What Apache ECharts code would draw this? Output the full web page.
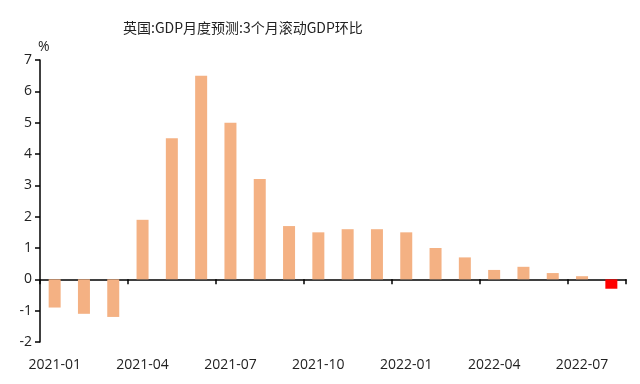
<!DOCTYPE html>
<html><head><meta charset="utf-8">
<script src="https://cdn.jsdelivr.net/npm/echarts@6/dist/echarts.min.js"></script>
<style>html,body{margin:0;padding:0;background:#fff}#c{width:640px;height:384px}</style>
</head><body><div id="c"></div>
<script>
const categories = ["2021-01","2021-02","2021-03","2021-04","2021-05","2021-06","2021-07","2021-08","2021-09","2021-10","2021-11","2021-12","2022-01","2022-02","2022-03","2022-04","2022-05","2022-06","2022-07","2022-08"];
const values = [-0.9,-1.1,-1.2,1.9,4.5,6.5,5.0,3.2,1.7,1.5,1.6,1.6,1.5,1.0,0.7,0.3,0.4,0.2,0.1,-0.3];
const highlightIndex = [19];
const yTicks = {min:-2, max:7, interval:1};
const titleText = "英国:GDP月度预测:3个月滚动GDP环比";
const unitText = "%";

const font = "'Open Sans', 'Noto Sans CJK SC', sans-serif";
const chart = echarts.init(document.getElementById('c'), null, {renderer:'canvas'});
chart.setOption({
  animation:false,
  title:{text:titleText, left:118, top:16, textStyle:{fontSize:14, fontWeight:'normal', color:'#222', fontFamily:"'Noto Sans CJK SC', sans-serif"}},
  grid:{left:40, right:14, top:60, bottom:42, containLabel:false},
  xAxis:[{
    type:'category', data:categories, position:'bottom',
    axisLine:{onZero:true, lineStyle:{color:'#000', width:1.5}},
    axisTick:{show:true, interval:2, length:5, inside:false, lineStyle:{color:'#000', width:1.5}},
    axisLabel:{show:false}
  },{
    type:'category', data:categories, position:'bottom',
    axisLine:{show:false, onZero:false}, axisTick:{show:false},
    axisLabel:{interval:2, color:'#222', fontSize:14, fontFamily:font, margin:16}
  }],
  yAxis:{
    type:'value', min:yTicks.min, max:yTicks.max, interval:yTicks.interval,
    name:unitText, nameGap:6, nameTextStyle:{color:'#222', fontSize:14, fontFamily:font, align:'left', padding:[0,0,0,-2]},
    axisLine:{show:true, lineStyle:{color:'#000', width:1.5}},
    axisTick:{show:true, length:5, lineStyle:{color:'#000', width:1.5}},
    axisLabel:{color:'#222', fontSize:14, fontFamily:font, margin:8},
    splitLine:{show:false}
  },
  series:[{
    type:'bar', xAxisIndex:0, barWidth:12,
    data:values.map((v,i)=>({value:v, itemStyle:{color: highlightIndex.includes(i)?'#FF0000':'#F4B183'}}))
  }]
});
</script></body></html>
